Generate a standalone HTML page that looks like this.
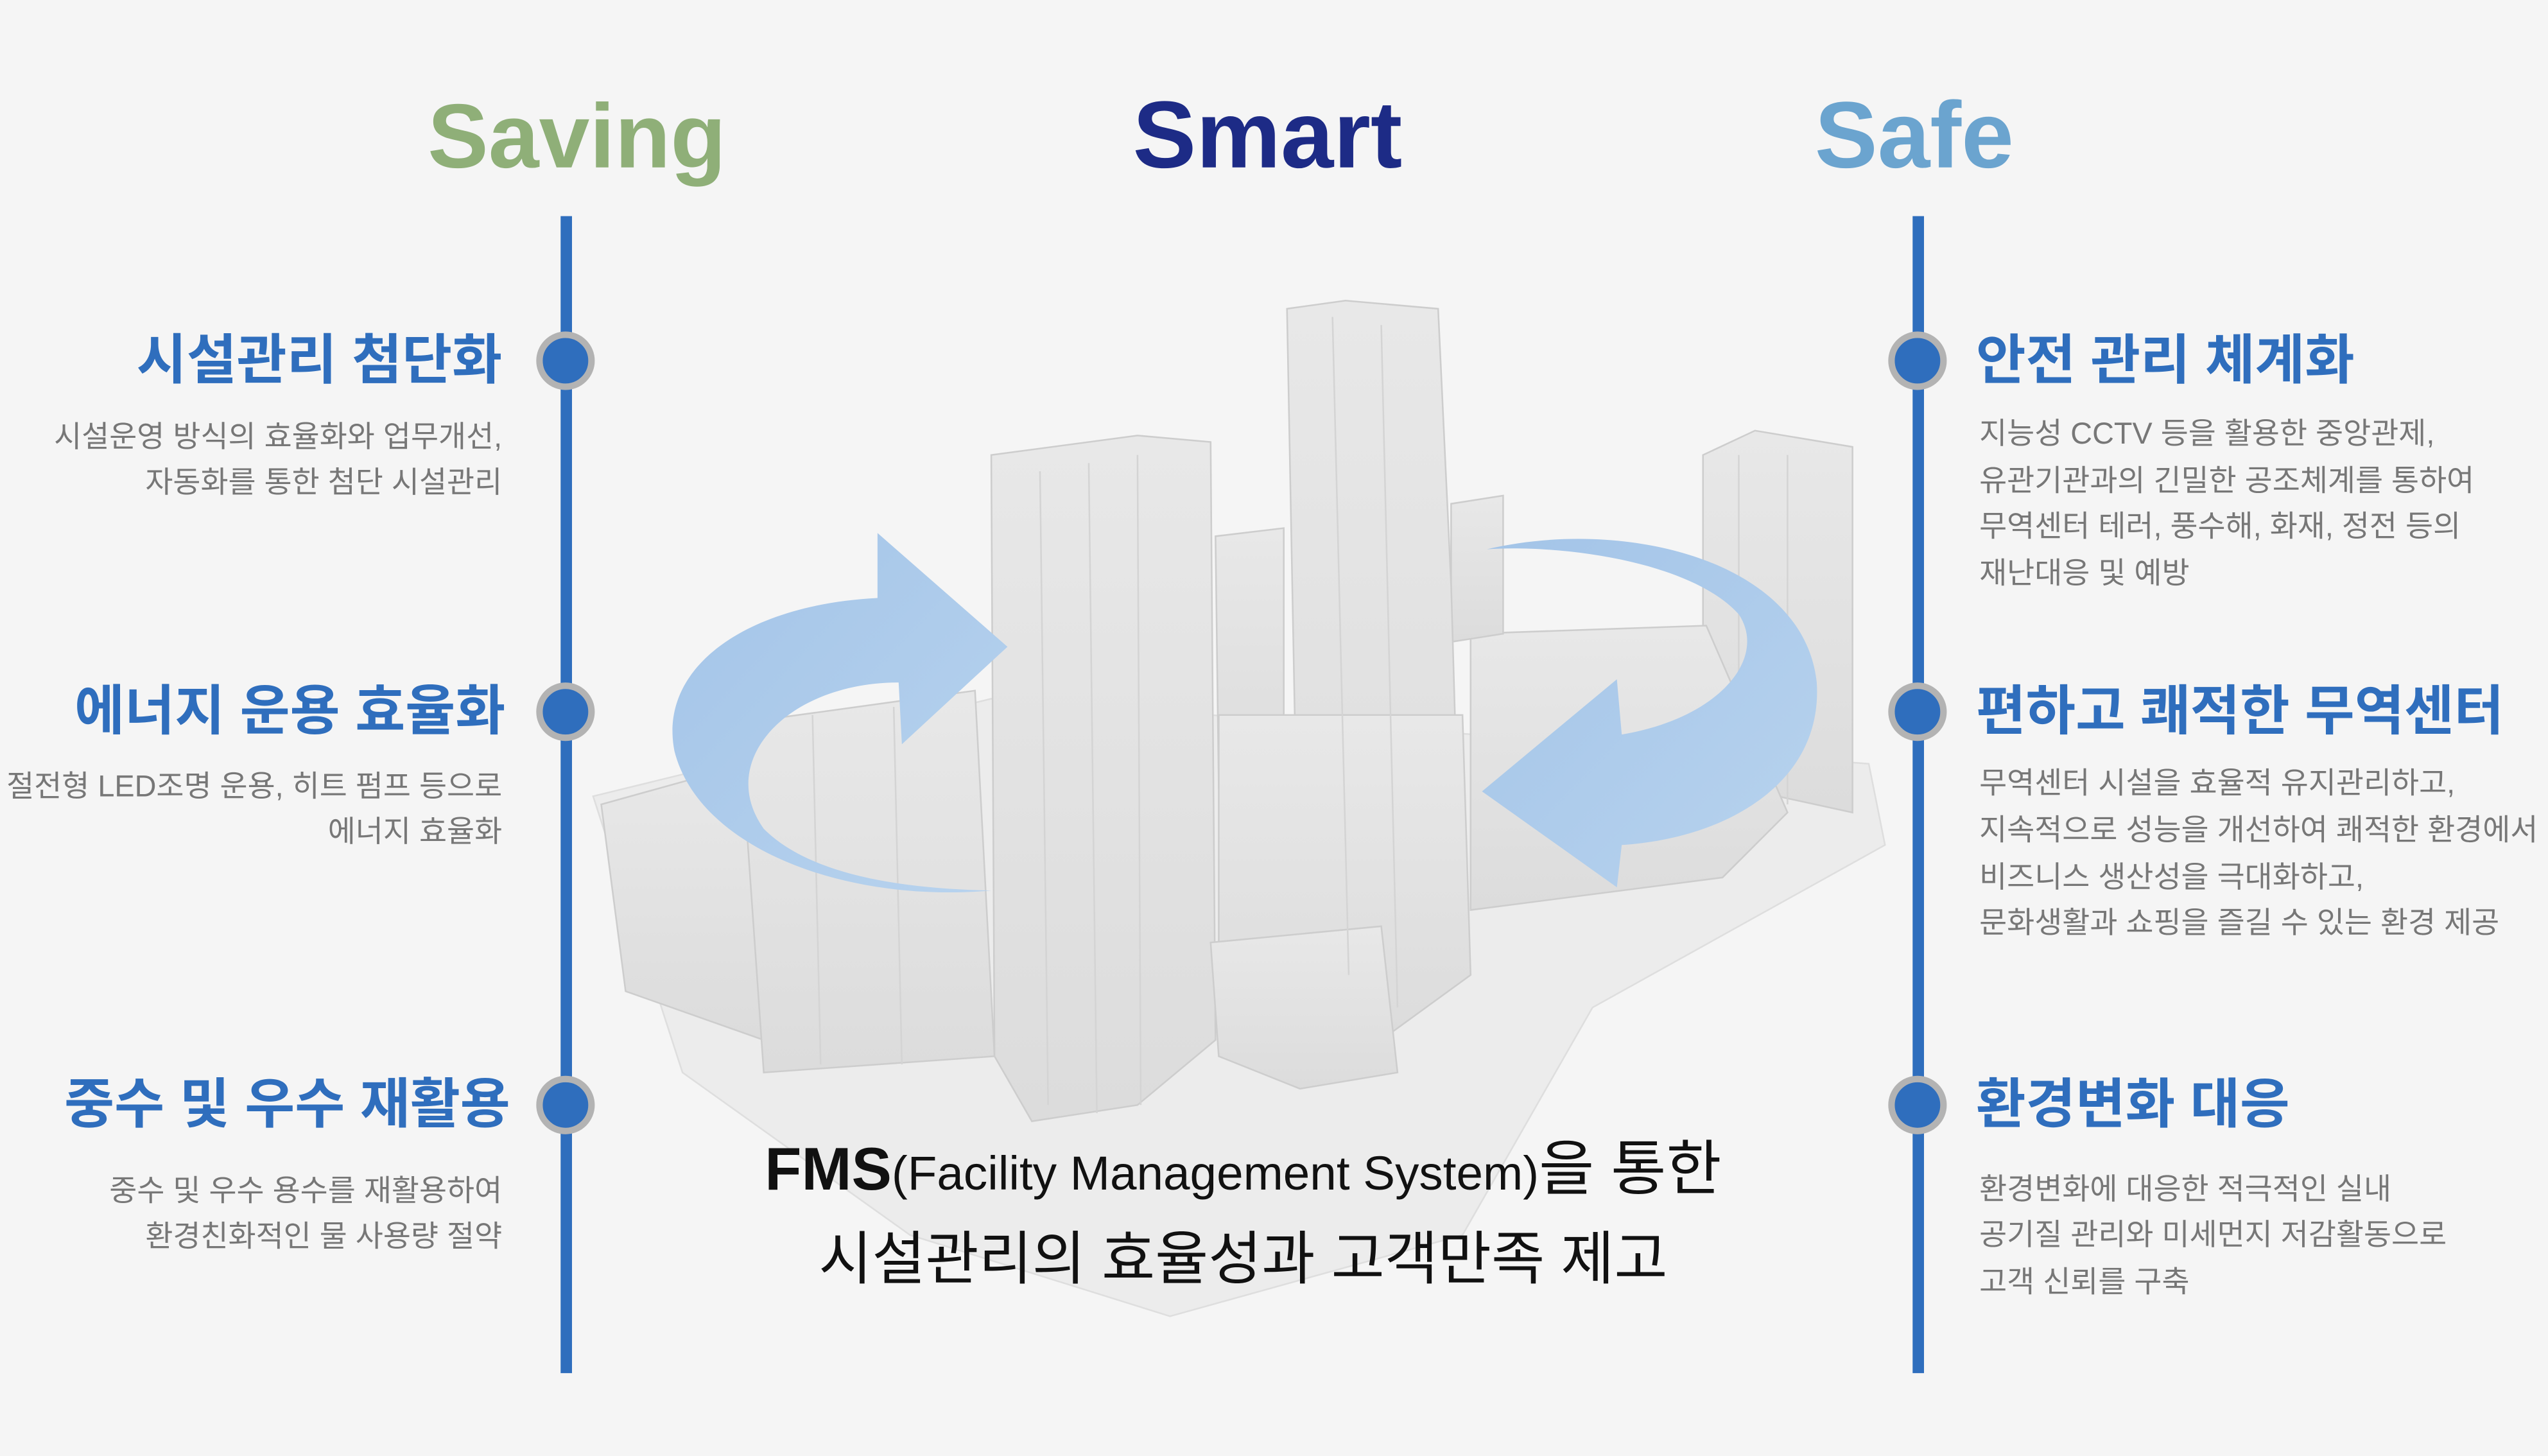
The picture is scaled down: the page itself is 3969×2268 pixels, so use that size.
<!DOCTYPE html>
<html><head><meta charset="utf-8"><style>
html,body{margin:0;padding:0;background:#f5f5f5;}
svg{display:block;}
text{font-family:"Liberation Sans","Noto Sans CJK KR",sans-serif;}
</style></head><body>
<svg width="3969" height="2268" viewBox="0 0 1568 896" xmlns="http://www.w3.org/2000/svg">
<defs>
<linearGradient id="ga" x1="0" y1="0" x2="1" y2="1"><stop offset="0" stop-color="#a3c4e8"/><stop offset="1" stop-color="#b8d3ee"/></linearGradient>
<linearGradient id="gb" x1="0" y1="0" x2="0" y2="1"><stop offset="0" stop-color="#e8e8e8"/><stop offset="1" stop-color="#dcdcdc"/></linearGradient>
</defs>
<rect width="1568" height="896" fill="#f5f5f5"/>
<polygon points="365,490 610,430 1150,470 1160,520 980,620 900,760 720,810 560,760 420,660" fill="#ececec" stroke="#dedede"/>
<g stroke="#cdcdcd" stroke-width="1" fill="url(#gb)">
<polygon points="370,495 460,470 470,640 385,610"/>
<polygon points="455,445 600,425 612,650 470,660"/>
<polygon points="1048,280 1080,265 1140,275 1140,500 1048,480"/>
<polygon points="905,390 1050,385 1100,500 1060,540 905,560"/>
<polygon points="748,330 790,325 790,480 750,485"/>
<polygon points="893,310 925,305 925,390 893,395"/>
<polygon points="792,190 828,185 885,190 893,360 900,600 850,630 800,610"/>
<polygon points="750,440 900,440 905,600 850,640 750,630"/>
<polygon points="610,280 700,268 745,272 748,640 700,680 635,690 612,650"/>
<polygon points="745,580 850,570 860,660 800,670 750,650"/>
</g>
<g stroke="#d4d4d4" stroke-width="1">
<line x1="640" y1="290" x2="645" y2="680"/><line x1="670" y1="285" x2="675" y2="685"/><line x1="700" y1="280" x2="702" y2="680"/>
<line x1="820" y1="195" x2="830" y2="600"/><line x1="850" y1="200" x2="860" y2="620"/>
<line x1="1070" y1="280" x2="1070" y2="490"/><line x1="1100" y1="280" x2="1100" y2="495"/>
<line x1="500" y1="440" x2="505" y2="655"/><line x1="550" y1="435" x2="555" y2="655"/>
</g>
<path d="M540 328 L620 398 L555 458 L553 420 C485 420 440 468 470 510 C500 540 560 547 610 548 C520 556 430 522 415 462 C405 410 460 372 540 368 Z" fill="url(#ga)"/>
<path d="M912 487 L995 418 L998 452 C1058 442 1088 405 1070 378 C1040 345 960 335 915 338 C1000 318 1110 345 1118 420 C1122 482 1062 516 998 520 L995 546 Z" fill="url(#ga)"/>
<text x="355" y="103" text-anchor="middle" font-size="56" font-weight="bold" fill="#8faf78">Saving</text>
<text x="780" y="103" text-anchor="middle" font-size="58.5" font-weight="bold" fill="#1d2b86">Smart</text>
<text x="1178" y="103" text-anchor="middle" font-size="58" font-weight="bold" fill="#6ba4cf">Safe</text>
<rect x="345" y="133" width="7" height="712" fill="#2f6ebd"/>
<rect x="1177" y="133" width="7" height="712" fill="#2f6ebd"/>
<g fill="#2f6ebd" stroke="#b3b3b3" stroke-width="4">
<circle cx="348" cy="222" r="16"/><circle cx="348" cy="438" r="16"/><circle cx="348" cy="680" r="16"/>
<circle cx="1180" cy="222" r="16"/><circle cx="1180" cy="438" r="16"/><circle cx="1180" cy="680" r="16"/>
</g>
<g font-size="33.5" font-weight="bold" fill="#2f6ebd" text-anchor="end">
<text x="309" y="233">시설관리 첨단화</text>
<text x="311" y="449">에너지 운용 효율화</text>
<text x="314" y="691">중수 및 우수 재활용</text>
</g>
<g font-size="18.5" fill="#777" text-anchor="end">
<text x="309" y="275">시설운영 방식의 효율화와 업무개선,</text>
<text x="309" y="303">자동화를 통한 첨단 시설관리</text>
<text x="309" y="490">절전형 LED조명 운용, 히트 펌프 등으로</text>
<text x="309" y="518">에너지 효율화</text>
<text x="309" y="739">중수 및 우수 용수를 재활용하여</text>
<text x="309" y="767">환경친화적인 물 사용량 절약</text>
</g>
<g font-size="33.3" font-weight="bold" fill="#2f6ebd">
<text x="1216" y="233">안전 관리 체계화</text>
<text x="1216" y="449">편하고 쾌적한 무역센터</text>
<text x="1216" y="691">환경변화 대응</text>
</g>
<g font-size="18.5" fill="#777">
<text x="1218" y="273">지능성 CCTV 등을 활용한 중앙관제,</text>
<text x="1218" y="302">유관기관과의 긴밀한 공조체계를 통하여</text>
<text x="1218" y="330">무역센터 테러, 풍수해, 화재, 정전 등의</text>
<text x="1218" y="359">재난대응 및 예방</text>
<text x="1218" y="488">무역센터 시설을 효율적 유지관리하고,</text>
<text x="1218" y="517">지속적으로 성능을 개선하여 쾌적한 환경에서</text>
<text x="1218" y="546">비즈니스 생산성을 극대화하고,</text>
<text x="1218" y="574">문화생활과 쇼핑을 즐길 수 있는 환경 제공</text>
<text x="1218" y="738">환경변화에 대응한 적극적인 실내</text>
<text x="1218" y="766">공기질 관리와 미세먼지 저감활동으로</text>
<text x="1218" y="795">고객 신뢰를 구축</text>
</g>
<text x="765" y="732" text-anchor="middle" fill="#111"><tspan font-size="37" font-weight="bold">FMS</tspan><tspan font-size="29.5">(Facility Management System)</tspan><tspan font-size="37">을 통한</tspan></text>
<text x="765" y="787" text-anchor="middle" font-size="35.7" fill="#111">시설관리의 효율성과 고객만족 제고</text>
</svg>
</body></html>
